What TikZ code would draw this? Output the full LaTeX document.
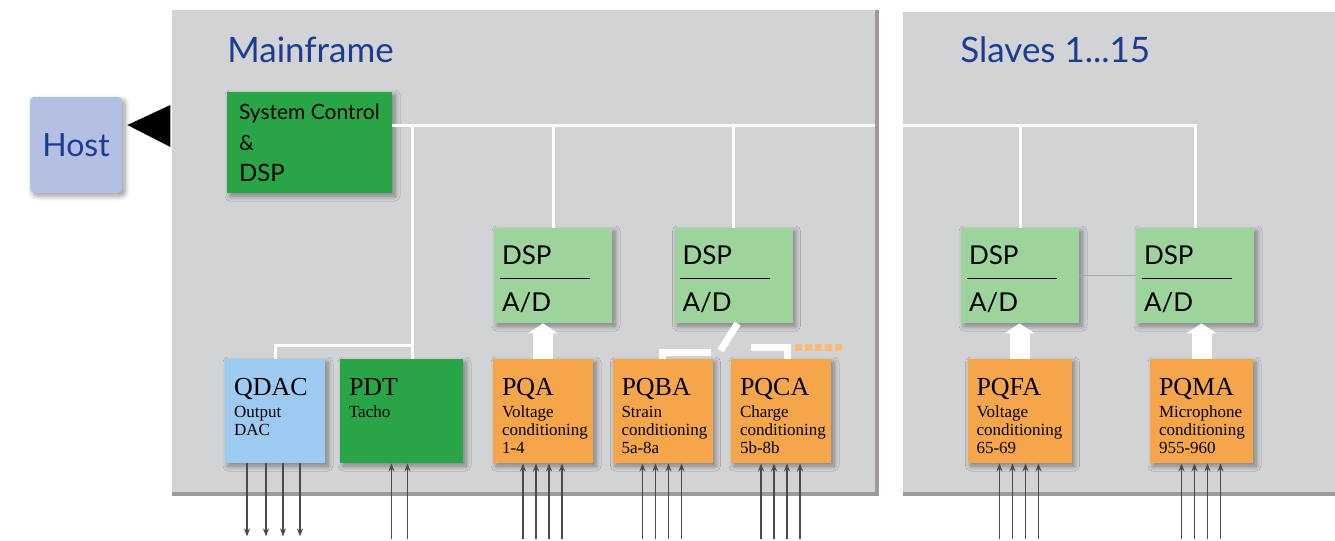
\documentclass[tikz,border=0pt]{standalone}
\usepackage{fontspec}
\setmainfont{Liberation Serif}
\newfontfamily\labelfont{Lato}
\usetikzlibrary{arrows.meta,calc,positioning,shadows.blur}

\definecolor{panelgray}{HTML}{D2D3D5}
\definecolor{paneledge}{HTML}{9C9A9A}
\definecolor{titleblue}{HTML}{1D3B92}
\definecolor{hostblue}{HTML}{B4C0E3}
\definecolor{ctrlgreen}{HTML}{29A548}
\definecolor{dspgreen}{HTML}{9DD49B}
\definecolor{condorange}{HTML}{F6A64A}
\definecolor{dacblue}{HTML}{9DCAF0}
\definecolor{wiregray}{HTML}{4A4A4A}

\tikzset{
  panel title/.style={font=\labelfont\fontsize{17.5}{17.5}\selectfont,text=titleblue,anchor=base west,inner sep=0pt},
  unit/.style={rectangle,inner sep=0pt,blur shadow={shadow xshift=1.5pt,shadow yshift=-1.5pt,shadow blur radius=2.5pt,shadow blur steps=8,shadow opacity=40}},
  dsp box/.style={unit,fill=dspgreen,minimum width=59pt,minimum height=47.5pt},
  module/.style={unit,minimum width=50pt,minimum height=52pt},
  unit name/.style={font=\fontsize{13}{13}\selectfont,anchor=base west,inner sep=0pt},
  unit sub/.style={font=\fontsize{8.5}{9}\selectfont,align=left,anchor=north west,inner sep=0pt},
  dsp label/.style={font=\labelfont\fontsize{13}{13}\selectfont,anchor=base west,inner sep=0pt},
  bus/.style={white,line width=1.5pt},
  feed/.style={white,line width=3.5pt},
  fat arrow/.style={white,line width=10pt,-{Triangle[width=15pt,length=5pt]}},
  orange dash/.style={condorange!75!white,line width=3.5pt,dash pattern=on 3.5pt off 1.5pt},
  sig in/.style={wiregray,line width=.8pt,-{Stealth[length=4pt,width=3pt]}},
  sig out/.style={wiregray,line width=.8pt,-{Stealth[length=4pt,width=3pt]}}
}
\newcommand{\UnitText}[3]{%
  \node[unit name] (#1-name) at ($(#1.north west)+(9,37)$) {#2};
  \node[unit sub] (#1-sub) at ($(#1.north west)+(9,47)$) {#3};}
\newcommand{\DSPText}[1]{%
  \node[dsp label] (#1-dsp) at ($(#1.north west)+(8,37)$) {DSP};
  \draw[line width=.5pt] ($(#1.north west)+(6,51)$) -- ++(90,0);
  \node[dsp label] (#1-ad) at ($(#1.north west)+(8,84)$) {A/D};}

\begin{document}
\begin{tikzpicture}[x=0.5pt,y=-0.5pt]
\useasboundingbox (0,0) rectangle (1335,541);
% racks
\fill[panelgray] (172,10) rectangle (878,495);
\fill[panelgray] (903,12) rectangle (1335,495);
\node[panel title] (mftitle) at (227,62) {Mainframe};
\node[panel title] (sltitle) at (960,62) {Slaves 1...15};

\coordinate (bus) at (392,125);
\coordinate (tap) at (412,125);
\coordinate (qturn) at (412,345);

\node[unit,fill=hostblue,rounded corners=2pt,minimum width=46pt,minimum height=48pt,
  font=\labelfont\fontsize{16}{16}\selectfont,text=titleblue] (host) at (76,145) {Host};
\node[unit,fill=ctrlgreen,minimum width=82.5pt,minimum height=50.5pt] (ctrl) at (309.5,142.5) {};
\node[anchor=north west,align=left,inner sep=0pt,font=\labelfont\fontsize{10.5}{15.5}\selectfont]
  (ctrl-text) at ($(ctrl.north west)+(12,12)$) {System Control\\\&\\{\fontsize{12}{15.5}\selectfont DSP}};

\node[dsp box] (dsp1) at (553,275.5) {};
\node[dsp box] (dsp2) at (733.5,275.5) {};
\node[dsp box] (dsp3) at (1020,275.5) {};
\node[dsp box] (dsp4) at (1195,275.5) {};
\foreach \d in {dsp1,dsp2,dsp3,dsp4} {\DSPText{\d}}

\node[module,fill=dacblue] (qdac) at (275,411) {};
\node[module,fill=ctrlgreen,minimum width=61.5pt] (pdt) at (401.5,411) {};
\node[module,fill=condorange] (pqa) at (543,411) {};
\node[module,fill=condorange] (pqba) at (662.5,411) {};
\node[module,fill=condorange] (pqca) at (781,411) {};
\node[module,fill=condorange,minimum width=52pt] (pqfa) at (1019.5,411) {};
\node[module,fill=condorange,minimum width=51.5pt] (pqma) at (1201.5,411) {};
\UnitText{qdac}{QDAC}{Output\\DAC}
\UnitText{pdt}{PDT}{Tacho}
\UnitText{pqa}{PQA}{Voltage\\conditioning\\1-4}
\UnitText{pqba}{PQBA}{Strain\\conditioning\\5a-8a}
\UnitText{pqca}{PQCA}{Charge\\conditioning\\5b-8b}
\UnitText{pqfa}{PQFA}{Voltage\\conditioning\\65-69}
\UnitText{pqma}{PQMA}{Microphone\\conditioning\\955-960}

% bus
\draw[bus] (ctrl.east |- bus) -- (bus -| dsp4.north) -- (dsp4.north);
\foreach \d in {dsp1,dsp2,dsp3} {\draw[bus] (bus -| \d.north) -- (\d.north);}
\draw[bus] (tap) -- (tap |- pdt.north);
\draw[bus] (qturn) -- (qturn -| qdac.north) -- (qdac.north);
\draw[gray!70,line width=.8pt] (dsp3.east) -- (dsp4.west);

\draw[paneledge,line width=2pt] (172,494) -- (877,494) -- (877,10);
\draw[paneledge,line width=2pt] (903,494) -- (1335,494);

\fill[black] ($(host.east |- bus)+(5,0)$) -- ++(43,-20) -- ++(0,42) -- cycle;

% converters
\foreach \m/\d in {pqa/dsp1,pqfa/dsp3,pqma/dsp4} {\draw[fat arrow] (\m.north) -- (\m.north |- \d.south);}
\draw[feed] (pqba.north) -- ++(0,-6) -- ++(48,0);
\draw[feed] ($(pqba.north)+(58,-8)$) -- ($(dsp2.south)+(4,0)$);
\draw[feed] ($(pqca.north)+(6,0)$) -- ++(0,-11) -- ++(-36,0);
\draw[orange dash] ($(pqca.north)+(14,-11)$) -- ++(50,0);

% channels
\foreach \dx in {-28,-9,8,25} {\draw[sig out] ($(qdac.south)+(\dx,0)$) -- ++(0,73);}
\foreach \dx in {-10,6} {\draw[sig in] ($(pdt.south)+(\dx,76)$) -- ++(0,-76);}
\foreach \m in {pqa,pqba,pqca,pqfa,pqma}
  \foreach \dx in {-20,-7,6,19} {\draw[sig in] ($(\m.south)+(\dx,76)$) -- ++(0,-76);}
\end{tikzpicture}
\end{document}
